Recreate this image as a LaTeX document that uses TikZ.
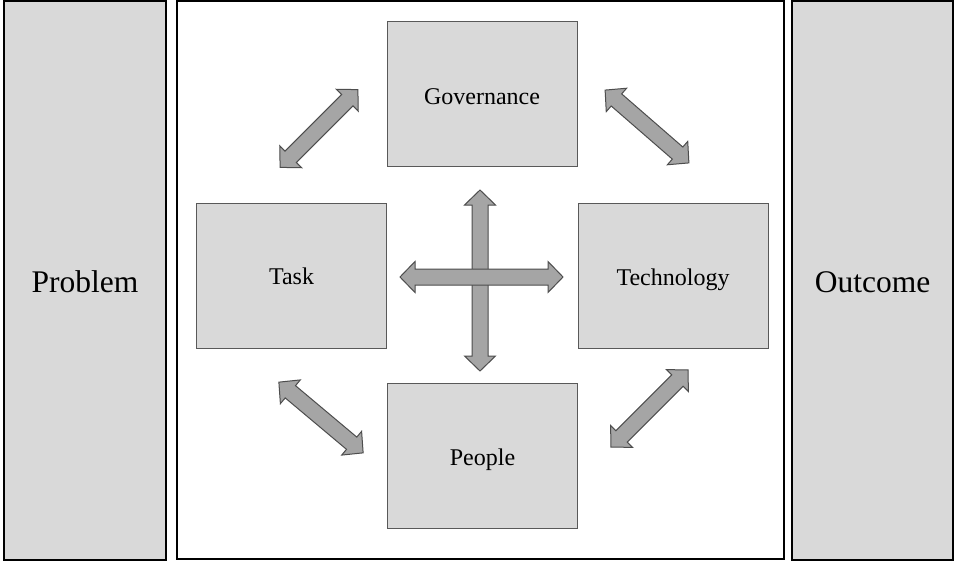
\documentclass[tikz,border=0pt]{standalone}
\usepackage{fontspec}
\setmainfont{Liberation Serif}
\definecolor{boxfill}{HTML}{D9D9D9}
\definecolor{arrfill}{HTML}{A5A5A5}
\definecolor{edgegray}{HTML}{595959}
\definecolor{arredge}{HTML}{4D4D4D}
\tikzset{
  outerbox/.style={draw=black, line width=1.4pt, fill=boxfill, inner sep=0pt,
    font=\fontsize{31.5}{36}\selectfont, text height=25pt, text depth=2pt},
  framebox/.style={draw=black, line width=1.4pt, fill=white, inner sep=0pt},
  innerbox/.style={draw=edgegray, line width=0.9pt, fill=boxfill, inner sep=0pt,
    minimum width=190pt, minimum height=145pt, font=\fontsize{24}{28}\selectfont,
    text height=20pt, text depth=2pt},
  arrowshape/.style={draw=arredge, line width=1pt, fill=arrfill, line join=miter},
  pics/dblarrow/.style={code={
    \path[arrowshape] (-#1/2,0) -- ++(15,15.5) -- ++(0,-7.5) -- (#1/2-15,8)
      -- ++(0,7.5) -- (#1/2,0) -- ++(-15,-15.5) -- ++(0,7.5) -- (-#1/2+15,-8)
      -- ++(0,-7.5) -- cycle;
  }}
}
\begin{document}
\begin{tikzpicture}[x=1pt,y=-1pt]
  \useasboundingbox[fill=white] (0,0) rectangle (954,562);
  % outer columns
  \node[outerbox, minimum width=162pt, minimum height=559pt] (problem) at (85,280.5) {Problem};
  \node[framebox, minimum width=607pt, minimum height=558pt] (frame) at (480.5,280) {};
  \node[outerbox, minimum width=161pt, minimum height=559pt] (outcome) at (872.5,280.5) {Outcome};
  % inner boxes
  \node[innerbox, text height=22pt] (gov) at (482,94) {Governance};
  \node[innerbox] (task) at (291.5,275.5) {Task};
  \node[innerbox] (tech) at (673,276) {Technology};
  \node[innerbox] (people) at (482.5,456) {People};
  % arrows
  \pic[rotate=90] (vert) at (480,280.5) {dblarrow=181};
  \pic (horiz) at (481.5,277) {dblarrow=163};
  \pic[rotate=45] (tl) at (319,128.5) {dblarrow=110};
  \pic[rotate=-41] (tr) at (647,126.5) {dblarrow=111};
  \pic[rotate=-40] (bl) at (321,417.5) {dblarrow=110};
  \pic[rotate=45] (br) at (649.5,408.5) {dblarrow=109};
\end{tikzpicture}
\end{document}
